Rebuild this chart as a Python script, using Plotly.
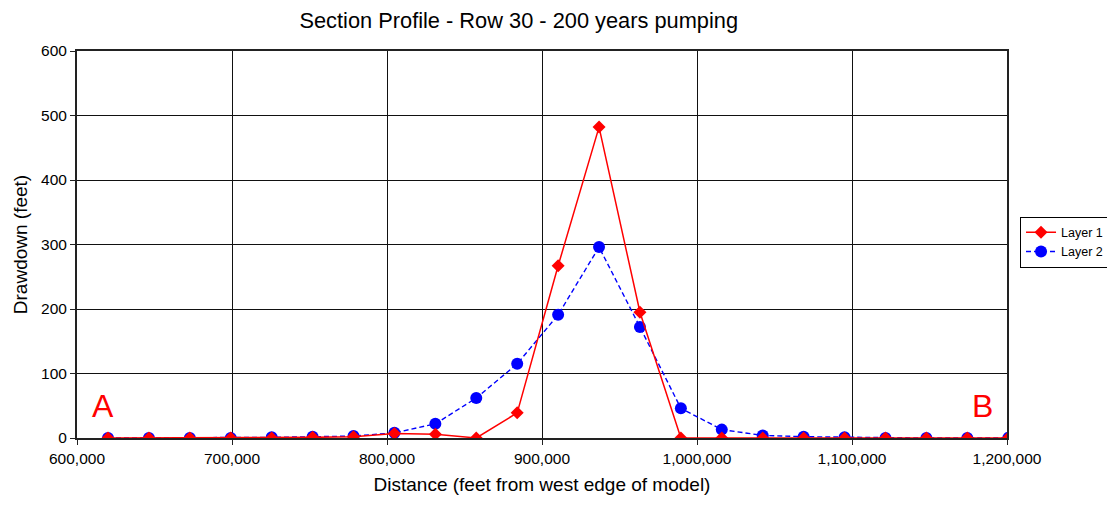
import plotly.graph_objects as go

distance = [620000 + k * 26400 for k in range(23)]
layer1 = [0, 0, 0, 0, 0, 1, 2, 7, 6, 0, 39, 267, 482, 195, 0, 0, 0, 0, 0, 0, 0, 0, 0]
layer2 = [0, 0, 0, 0, 1, 2, 3, 8, 22, 62, 115, 191, 296, 172, 46, 13, 4, 2, 1, 0, 0, 0, 0]

x_ticks = [600000, 700000, 800000, 900000, 1000000, 1100000, 1200000]
x_tick_labels = ["600,000", "700,000", "800,000", "900,000", "1,000,000", "1,100,000", "1,200,000"]
y_ticks = [0, 100, 200, 300, 400, 500, 600]

fig = go.Figure()
fig.add_trace(go.Scatter(
    x=distance, y=layer2, name="Layer 2", mode="lines+markers",
    line=dict(color="#0000FF", width=1.4, dash="5px,3px"),
    marker=dict(symbol="circle", size=12, color="#0000FF"),
    legendrank=2,
))
fig.add_trace(go.Scatter(
    x=distance, y=layer1, name="Layer 1", mode="lines+markers",
    line=dict(color="#FF0000", width=1.5),
    marker=dict(symbol="diamond", size=10, color="#FF0000"),
    legendrank=1,
))

# page body adds an 8px offset; the figure is sized/margined to compensate
fig.update_layout(
    width=1107, height=500,
    margin=dict(l=69, r=108, t=43, b=70, autoexpand=False),
    paper_bgcolor="white", plot_bgcolor="white",
    font=dict(family="Liberation Sans, Arial, sans-serif", color="black", size=15.5),
    title=dict(text="Section Profile - Row 30 - 200 years pumping", x=0.475, xref="paper",
               xanchor="center", y=0.976, yanchor="middle", font=dict(size=21.8)),
    showlegend=True,
    legend=dict(x=1.014, xanchor="left", y=0.506, yanchor="middle",
                bordercolor="black", borderwidth=1, font=dict(size=12.5),
                tracegroupgap=0, itemwidth=30),
    xaxis=dict(range=[600000, 1200000], tickvals=x_ticks, ticktext=x_tick_labels,
               showgrid=True, gridcolor="#111111", gridwidth=1,
               showline=True, linecolor="#222222", linewidth=2, mirror=True,
               ticks="outside", ticklen=5, tickcolor="#222222", zeroline=False, automargin=False,
               title=dict(text="Distance (feet from west edge of model)", font=dict(size=19), standoff=12)),
    yaxis=dict(range=[0, 600], tickvals=y_ticks,
               showgrid=True, gridcolor="#111111", gridwidth=1,
               showline=True, linecolor="#222222", linewidth=2, mirror=True,
               ticks="outside", ticklen=5, tickcolor="#222222", zeroline=False, automargin=False,
               title=dict(text="Drawdown (feet)", font=dict(size=19), standoff=8)),
)

fig.add_annotation(x=0.028, y=0.083, xref="paper", yref="paper", text="A", showarrow=False,
                   font=dict(size=32, color="#FF0000"), xanchor="center", yanchor="middle")
fig.add_annotation(x=0.974, y=0.083, xref="paper", yref="paper", text="B", showarrow=False,
                   font=dict(size=32, color="#FF0000"), xanchor="center", yanchor="middle")

fig.write_html("out.html")
